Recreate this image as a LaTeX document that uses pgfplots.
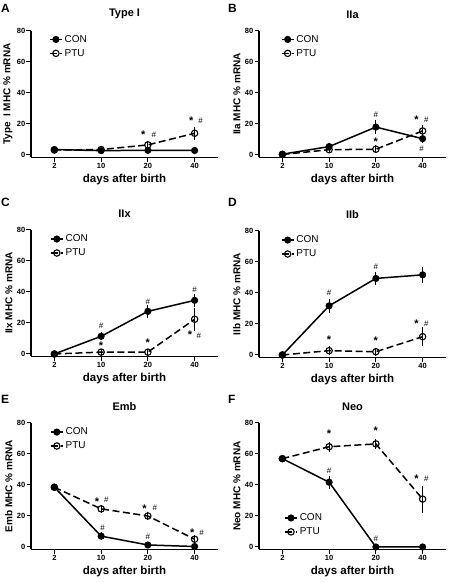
\documentclass[border=0pt]{standalone}
\usepackage{fontspec}
\setmainfont{Liberation Sans}
\usepackage{pgfplots}
\pgfplotsset{compat=1.18}

\pgfplotsset{
 panel/.style={
  width=187pt, height=126.3pt, scale only axis,
  xmin=-0.5, xmax=3.5, ymin=-1.5, ymax=80,
  axis lines*=left,
  xtick={0,1,2,3}, xticklabels={2,10,20,40},
  ytick={0,20,40,60,80},
  tick align=outside, major tick length=4.5pt,
  tick style={black, line width=1pt},
  axis line style={line width=1.1pt},
  /pgf/number format/assume math mode=true,
  xticklabel style={font=\bfseries\fontsize{7.5}{8}\selectfont, inner sep=1.5pt},
  yticklabel style={font=\bfseries\fontsize{7.5}{8}\selectfont, inner sep=1pt, text=black, /pgf/number format/assume math mode=true},
  yticklabel={\pgfmathprintnumber{\tick}},
  xlabel={days after birth},
  xlabel style={font=\bfseries\fontsize{11.5}{12}\selectfont},
  ylabel style={font=\bfseries\fontsize{10}{11}\selectfont},
  title style={font=\bfseries\fontsize{11}{12}\selectfont, yshift=3pt},
  legend style={draw=none, fill=none, font=\fontsize{10}{11}\selectfont, legend cell align=left, row sep=1.5pt},
  legend image code/.code={\draw[mark repeat=2,mark phase=2,##1] plot coordinates {(0pt,0pt) (6pt,0pt) (12pt,0pt)};},
  clip=false,
  reverse legend,
 },
 con/.style={black, line width=1.5pt, mark=*, mark size=2.8pt, mark options={solid, fill=black},
  error bars/.cd, y dir=both, y explicit,
  error bar style={line width=1pt, black, solid},
  error mark options={line width=1pt, mark size=3.3pt, black, solid}},
 ptu/.style={black, line width=1.5pt, dash pattern=on 7pt off 3.5pt, mark=o, mark size=3.2pt, mark options={solid, fill=white, line width=1.1pt},
  error bars/.cd, y dir=both, y explicit,
  error bar style={line width=1pt, black, solid},
  error mark options={line width=1pt, mark size=3.3pt, black, solid}},
}
\tikzset{
 star/.style={font=\bfseries\fontsize{11}{11}\selectfont, inner sep=0pt},
 hash/.style={font=\fontsize{8}{8}\selectfont, inner sep=0pt},
}

\begin{document}
\begin{tikzpicture}
\useasboundingbox (0,0) rectangle (452pt,583pt);

% ---------- A ----------
\begin{axis}[panel, at={(31pt,425.7pt)}, anchor=south west,
  title={Type I}, ylabel={Type\ \ I MHC \% mRNA},
  legend style={at={(0.08,1.0)}, anchor=north west}]
\addplot[ptu] coordinates {(0,3.2) +- (0,0) (1,3.5) +- (0,0) (2,6.5) +- (0,0.5) (3,14) +- (0,2)};
\addplot[con] coordinates {(0,3.5) +- (0,0) (1,2.8) +- (0,0) (2,3) +- (0,0) (3,2.9) +- (0,0)};
\legend{PTU,CON}
\node[star] at (axis cs:1.9,13.0) {*};
\node[hash] at (axis cs:2.13,12.9) {\#};
\node[star] at (axis cs:2.93,22.2) {*};
\node[hash] at (axis cs:3.13,22.0) {\#};
\end{axis}
\node[anchor=base west, font=\bfseries\fontsize{12}{12}\selectfont, inner sep=0pt] at (1pt,570.3pt) {A};

% ---------- B ----------
\begin{axis}[panel, at={(259pt,425.7pt)}, anchor=south west,
  title={IIa}, ylabel={IIa MHC \% mRNA},
  legend style={at={(0.10,1.0)}, anchor=north west}]
\addplot[ptu] coordinates {(0,0.3) +- (0,0) (1,3.4) +- (0,0) (2,3.7) +- (0,0.3) (3,15.5) +- (0,1.5)};
\addplot[con] coordinates {(0,0.5) +- (0,0) (1,5.4) +- (0,0.5) (2,18) +- (0,2.5) (3,10.5) +- (0,0.8)};
\legend{PTU,CON}
\node[hash] at (axis cs:2,26) {\#};
\node[star] at (axis cs:2,8.5) {*};
\node[star] at (axis cs:2.87,23) {*};
\node[hash] at (axis cs:3.08,22.5) {\#};
\node[hash] at (axis cs:2.98,4.3) {\#};
\end{axis}
\node[anchor=base west, font=\bfseries\fontsize{12}{12}\selectfont, inner sep=0pt] at (228pt,570.3pt) {B};

% ---------- C ----------
\begin{axis}[panel, at={(31pt,226.7pt)}, anchor=south west,
  title={IIx}, ylabel={IIx MHC \% mRNA},
  legend style={at={(0.085,0.995)}, anchor=north west}]
\addplot[ptu] coordinates {(0,0) +- (0,0) (1,1.2) +- (0,0) (2,1.2) +- (0,0) (3,22.4) +- (0,5.3)};
\addplot[con] coordinates {(0,0) +- (0,0) (1,11.4) +- (0,0.5) (2,27.5) +- (0,2) (3,34.6) +- (0,2)};
\legend{PTU,CON}
\node[hash] at (axis cs:1,18) {\#};
\node[star] at (axis cs:1,5.3) {*};
\node[hash] at (axis cs:2,34) {\#};
\node[star] at (axis cs:2,7.2) {*};
\node[hash] at (axis cs:3,41.5) {\#};
\node[star] at (axis cs:2.9,12.2) {*};
\node[hash] at (axis cs:3.09,12) {\#};
\end{axis}
\node[anchor=base west, font=\bfseries\fontsize{12}{12}\selectfont, inner sep=0pt] at (1pt,376pt) {C};

% ---------- D ----------
\begin{axis}[panel, at={(259pt,225.7pt)}, anchor=south west,
  title={IIb}, ylabel={IIb MHC \% mRNA},
  legend style={at={(0.10,0.995)}, anchor=north west}]
\addplot[ptu] coordinates {(0,0) +- (0,0) (1,2.8) +- (0,1) (2,2.1) +- (0,0.5) (3,11.8) +- (0,4)};
\addplot[con] coordinates {(0,0) +- (0,0) (1,31.7) +- (0,2.5) (2,49.4) +- (0,2) (3,51.7) +- (0,3)};
\legend{PTU,CON}
\node[hash] at (axis cs:1,40) {\#};
\node[star] at (axis cs:1,9.7) {*};
\node[hash] at (axis cs:2,56.7) {\#};
\node[star] at (axis cs:2,8.9) {*};
\node[star] at (axis cs:2.87,20.4) {*};
\node[hash] at (axis cs:3.08,20.3) {\#};
\end{axis}
\node[anchor=base west, font=\bfseries\fontsize{12}{12}\selectfont, inner sep=0pt] at (228pt,376pt) {D};

% ---------- E ----------
\begin{axis}[panel, at={(31pt,33.7pt)}, anchor=south west,
  title={Emb}, ylabel={Emb MHC \% mRNA},
  legend style={at={(0.085,0.995)}, anchor=north west}]
\addplot[ptu] coordinates {(0,38.5) +- (0,0) (1,24.6) +- (0,0.5) (2,20) +- (0,0.5) (3,5) +- (0,0.5)};
\addplot[con] coordinates {(0,38.6) +- (0,0) (1,7) +- (0,0.3) (2,1.3) +- (0,0) (3,0.3) +- (0,0)};
\legend{PTU,CON}
\node[star] at (axis cs:0.91,29.5) {*};
\node[hash] at (axis cs:1.11,30.3) {\#};
\node[hash] at (axis cs:1.03,12.4) {\#};
\node[star] at (axis cs:1.93,24.7) {*};
\node[hash] at (axis cs:2.15,25) {\#};
\node[hash] at (axis cs:2,6.8) {\#};
\node[star] at (axis cs:2.95,9.3) {*};
\node[hash] at (axis cs:3.15,9) {\#};
\end{axis}
\node[anchor=base west, font=\bfseries\fontsize{12}{12}\selectfont, inner sep=0pt] at (1pt,179pt) {E};

% ---------- F ----------
\begin{axis}[panel, at={(259pt,33.7pt)}, anchor=south west,
  title={Neo}, ylabel={Neo MHC \% mRNA},
  legend style={at={(0.118,0.315)}, anchor=north west}]
\addplot[ptu] coordinates {(0,57) +- (0,0) (1,64.7) +- (0,1) (2,66.5) +- (0,1) (3,30.9) +- (0,6.6)};
\addplot[con] coordinates {(0,57) +- (0,0) (1,41.8) +- (0,2) (2,0) +- (0,0) (3,0) +- (0,0)};
\legend{PTU,CON}
\node[star] at (axis cs:1,73.3) {*};
\node[hash] at (axis cs:1,49) {\#};
\node[star] at (axis cs:2,74.7) {*};
\node[hash] at (axis cs:2,5) {\#};
\node[star] at (axis cs:2.87,43.9) {*};
\node[hash] at (axis cs:3.08,43.8) {\#};
\end{axis}
\node[anchor=base west, font=\bfseries\fontsize{12}{12}\selectfont, inner sep=0pt] at (228pt,179pt) {F};
\end{tikzpicture}
\end{document}
